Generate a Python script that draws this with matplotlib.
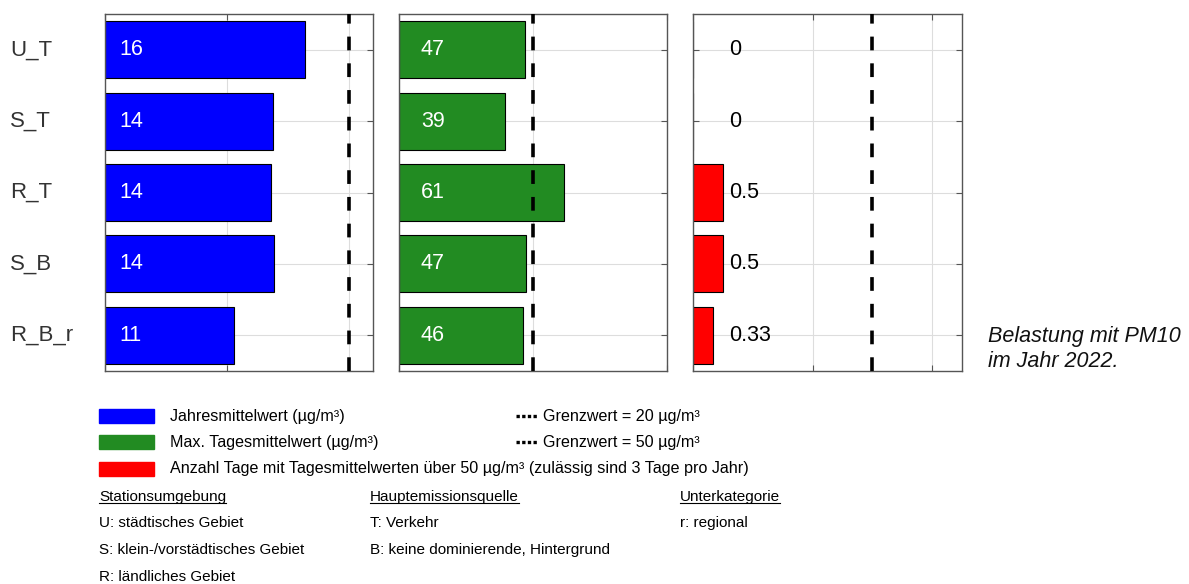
import matplotlib
matplotlib.use('Agg')
import matplotlib.pyplot as plt
import matplotlib.transforms as mtransforms
from matplotlib.patches import Rectangle
from matplotlib.lines import Line2D

plt.rcParams['font.family'] = ['Liberation Sans', 'DejaVu Sans']

# PM10 stations and measured values 2022
stations = ['U_T', 'S_T', 'R_T', 'S_B', 'R_B_r']
annual_mean = [16.4, 13.8, 13.6, 13.9, 10.6]      # µg/m3
max_daily = [47.0, 39.4, 61.4, 47.3, 46.3]        # µg/m3
exceed_days = [0, 0, 0.5, 0.5, 0.33]              # days > 50 µg/m3
limits = [20, 50, 3]

panel_values = [annual_mean, max_daily, exceed_days]
panel_colors = ['#0000ff', '#228b22', '#ff0000']
panel_xmax = [22, 100, 4.5]
panel_ticks = [[0, 10, 20], [0, 50, 100], [0, 2, 4]]
label_x = [1.2, 8.2, 0.6]
label_color = ['white', 'white', 'black']
label_fmt = ['{:.0f}', '{:.0f}', '{:g}']

legend_bars = ['Jahresmittelwert (µg/m³)',
               'Max. Tagesmittelwert (µg/m³)',
               'Anzahl Tage mit Tagesmittelwerten über 50 µg/m³ (zulässig sind 3 Tage pro Jahr)']
legend_limits = ['Grenzwert = 20 µg/m³', 'Grenzwert = 50 µg/m³']
key_headers = ['Stationsumgebung', 'Hauptemissionsquelle', 'Unterkategorie']
key_columns = [['U: städtisches Gebiet', 'S: klein-/vorstädtisches Gebiet', 'R: ländliches Gebiet'],
               ['T: Verkehr', 'B: keine dominierende, Hintergrund'],
               ['r: regional']]

W, H = 1189, 584
fig = plt.figure(figsize=(W / 100, H / 100), dpi=100)


def fx(px):
    return px / W


def fy(py):
    return 1 - py / H


ypos = list(range(len(stations), 0, -1))
axes_px = [(105, 373), (399, 667), (693, 962)]
top, bottom = 14, 371

for i, (x0, x1) in enumerate(axes_px):
    ax = fig.add_axes([fx(x0), fy(bottom), (x1 - x0) / W, (bottom - top) / H])
    ax.barh(ypos, panel_values[i], height=0.8, color=panel_colors[i],
            edgecolor='black', linewidth=0.8, zorder=2)
    ax.axvline(limits[i], color='black', lw=2.6, linestyle=(0, (3.8, 3.6)), zorder=4)
    for y, v in zip(ypos, panel_values[i]):
        ax.text(label_x[i], y, label_fmt[i].format(v), color=label_color[i],
                fontsize=15.5, va='center', ha='left', zorder=5)
    ax.set_xlim(0, panel_xmax[i])
    ax.set_ylim(0.5, len(stations) + 0.5)
    ax.set_xticks(panel_ticks[i])
    ax.set_yticks(ypos)
    ax.set_xticklabels([])
    ax.set_yticklabels([])
    ax.grid(True, color='#dddddd', lw=0.8, zorder=0)
    ax.set_axisbelow(True)
    ax.tick_params(direction='in', length=4, color='#555555', top=True, right=True)
    for sp in ax.spines.values():
        sp.set_color('#555555')
        sp.set_linewidth(1.0)
    if i == 0:
        trans = mtransforms.blended_transform_factory(fig.transFigure, ax.transData)
        for y, name in zip(ypos, stations):
            fig.text(fx(10), y, name, transform=trans, fontsize=16,
                     va='center', ha='left', color='#333333')

# caption on the right
fig.text(fx(988), fy(342), 'Belastung mit PM10', fontsize=15.5, style='italic',
         va='baseline', ha='left', color='#111111')
fig.text(fx(988), fy(367), 'im Jahr 2022.', fontsize=15.5, style='italic',
         va='baseline', ha='left', color='#111111')

# legend for the bars
legend_fs = 11.6
rows_y = [416, 442, 469]
for y, col, txt in zip(rows_y, panel_colors, legend_bars):
    fig.add_artist(Rectangle((fx(99), fy(y + 7)), 55 / W, 14 / H, color=col,
                             transform=fig.transFigure))
    fig.text(fx(170), fy(y), txt, fontsize=legend_fs, va='center', ha='left')

for y, txt in zip(rows_y[:2], legend_limits):
    fig.add_artist(Line2D([fx(516), fx(538)], [fy(y), fy(y)], color='black', lw=2.4,
                          linestyle=(0, (1, 0.7)), transform=fig.transFigure))
    fig.text(fx(543), fy(y), txt, fontsize=legend_fs, va='center', ha='left')

# station classification key
key_fs = 11.0
col_x = [99, 370, 680]
fig.canvas.draw()
renderer = fig.canvas.get_renderer()
for cx, head, items in zip(col_x, key_headers, key_columns):
    t = fig.text(fx(cx), fy(497), head, fontsize=key_fs, va='center', ha='left')
    bb = t.get_window_extent(renderer)
    fig.add_artist(Line2D([bb.x0 / W, bb.x1 / W], [(bb.y0 + 1) / H, (bb.y0 + 1) / H],
                          color='black', lw=0.8, transform=fig.transFigure))
    for k, item in enumerate(items):
        fig.text(fx(cx), fy(523 + k * 27), item, fontsize=key_fs, va='center', ha='left')

fig.savefig('out.png', dpi=100)
